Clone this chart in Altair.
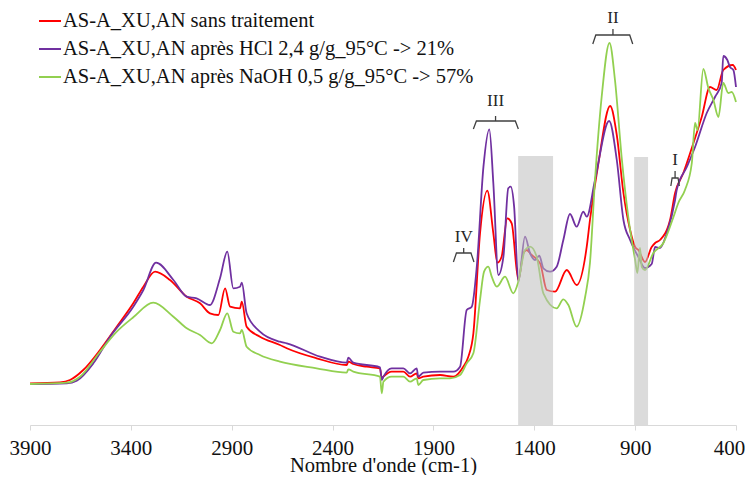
import altair as alt
import pandas as pd

names = ["AS-A_XU,AN sans traitement",
         "AS-A_XU,AN après HCl 2,4 g/g_95°C -> 21%",
         "AS-A_XU,AN après NaOH 0,5 g/g_95°C -> 57%"]
colors = ["#ff0000", "#7030a0", "#92d050"]

red_wn = [3900, 3751, 3702, 3636, 3553, 3470, 3388, 3338, 3280, 3206, 3123, 3057, 3008, 2966, 2933,
          2908, 2859, 2850, 2826, 2760, 2661, 2627, 2479, 2330, 2322, 2297, 2231, 2165, 2156, 2148,
          2107, 2049, 2016, 1983, 1975, 1950, 1867, 1801, 1752, 1727, 1702, 1669, 1633, 1603, 1583,
          1562, 1534, 1512, 1479, 1454, 1438, 1413, 1371, 1338, 1297, 1239, 1190, 1140, 1124, 1082,
          1024, 991, 958, 925, 900, 884, 851, 818, 801, 777, 727, 702, 661, 611, 570,
          529, 496, 463, 416, 400]
red_ab = [41.7, 42.7, 45, 55, 75, 98.3, 121.7, 138.3, 153.3, 145, 128.3, 121.7, 111.7, 110, 136.7,
          118.3, 116.7, 123.3, 98.3, 88.3, 80, 76.7, 66.7, 60, 63.3, 61, 58.3, 56.7, 46.7, 48.3,
          53.3, 53.3, 48.3, 51.7, 46.7, 48.3, 50, 48.3, 58.3, 68.3, 91.7, 191.7, 234.3, 191.7, 162.3,
          168.3, 206.7, 201.7, 145, 171.7, 175, 170, 161.7, 135, 133.3, 155, 140, 178.3, 205, 262,
          319, 290, 232, 195, 178, 175, 163, 178, 182, 185, 205, 232, 252, 282, 308,
          338, 335, 355, 360, 355]

purple_wn = [3900, 3718, 3668, 3586, 3503, 3388, 3338, 3275, 3189, 3123, 3074, 3008, 2958, 2922, 2892,
             2859, 2850, 2826, 2760, 2661, 2627, 2462, 2330, 2322, 2297, 2165, 2156, 2148, 2107, 2049,
             2016, 1983, 1975, 1950, 1867, 1801, 1768, 1735, 1710, 1685, 1652, 1623, 1603, 1578, 1553,
             1529, 1517, 1500, 1479, 1446, 1421, 1396, 1375, 1355, 1322, 1289, 1256, 1223, 1190, 1157,
             1140, 1099, 1029, 991, 958, 925, 884, 851, 818, 801, 777, 743, 702, 694, 644,
             603, 545, 504, 471, 463, 443, 430, 413, 400]
purple_ab = [41, 41.7, 44.3, 61.7, 88.3, 118.3, 135, 162.3, 145, 128.3, 126.7, 120, 146.7, 173.3, 136.7,
             138.3, 142.3, 111.7, 93.3, 83.3, 81.7, 68.3, 62.3, 67.3, 62.3, 57.7, 45, 48.3, 56.7, 56.7,
             51.7, 56.7, 48.3, 52.3, 53.3, 53.3, 58.3, 115, 118.3, 158.3, 258.3, 295.7, 241.7, 150, 168.3,
             236.7, 238.3, 218.3, 143.3, 188.3, 171.7, 165, 169.3, 156.7, 153.3, 158.3, 185, 211, 198.3, 213.3,
             208.3, 245, 304, 265, 205, 185, 168, 157, 161, 178, 177, 192, 225, 235, 258,
             278, 312, 328, 342, 369, 365, 358, 355, 338]

green_wn = [3900, 3718, 3652, 3553, 3470, 3388, 3289, 3189, 3123, 3057, 2999, 2958, 2922, 2892, 2859,
            2850, 2826, 2760, 2661, 2479, 2330, 2322, 2297, 2165, 2156, 2148, 2107, 2049, 2016, 1983,
            1975, 1950, 1867, 1818, 1768, 1735, 1702, 1669, 1649, 1628, 1611, 1586, 1545, 1504, 1479,
            1446, 1421, 1388, 1355, 1289, 1256, 1231, 1190, 1148, 1124, 1099, 1066, 1027, 1000, 967,
            934, 900, 889, 876, 867, 851, 810, 760, 710, 686, 653, 619, 603, 591, 562,
            537, 512, 487, 463, 438, 421, 400]
green_ab = [41, 42.3, 48.3, 73.3, 93.3, 107.7, 122.3, 108.3, 96.7, 90, 81.7, 95, 111.7, 93.3, 91.7,
            95, 78.3, 70, 63.3, 56.7, 52.3, 55.7, 53.3, 48.3, 31.7, 43.3, 48.3, 48.3, 43.3, 46.7,
            40, 45, 46.7, 46.7, 50, 61.7, 71.7, 125, 153.3, 158.3, 148.3, 138.3, 148.3, 131.7, 143.3,
            175, 178.3, 168.3, 131.7, 116.7, 125.7, 120, 98.3, 128, 162, 245, 328, 382, 345, 268,
            208, 165, 152, 177, 158, 155, 172, 182, 208, 222, 235, 262, 302, 295, 356,
            337, 325, 308, 342, 332, 333, 323]

tick_values = [3900, 3400, 2900, 2400, 1900, 1400, 900, 400]

# shaded zones (wavenumber range, height)
zone_start = [1480, 905]
zone_end = [1307, 836]
zone_top = [269, 268]

# bracket annotations
br_labels = ["IV", "III", "II", "I"]
br_left = [1801, 1702, 1110, 723]
br_right = [1699, 1479, 912, 681]
br_mid = [1750, 1592, 1010, 702]
br_top = [172, 304, 390, 247]
br_drop = [9, 8, 9, 8]
br_nub = [5, 5, 6, 7]
br_label_val = [188, 324, 407, 265]

FONT = "'Liberation Serif', 'Times New Roman', Times, 'DejaVu Serif', serif"

rows = []
for name, wns, abs_ in zip(names, [red_wn, purple_wn, green_wn], [red_ab, purple_ab, green_ab]):
    for w, a in zip(wns, abs_):
        rows.append({"serie": name, "wn": w, "ab": a})
df = pd.DataFrame(rows)

zones = pd.DataFrame({"x1": zone_start, "x2": zone_end, "top": zone_top, "base": [0, 0]})

brows = []
for lab, l, r, m, t, d, n in zip(br_labels, br_left, br_right, br_mid, br_top, br_drop, br_nub):
    c = min(15, 0.15 * (l - r))
    pts = [(l, t - d), (l - c, t), (m, t), (m, t + n), (m, t), (r + c, t), (r, t - d)]
    for i, (px, py) in enumerate(pts):
        brows.append({"b": lab, "i": i, "wn": px, "ab": py})
bdf = pd.DataFrame(brows)
ldf = pd.DataFrame({"lab": br_labels, "wn": br_mid, "ab": br_label_val})

x_scale = alt.Scale(domain=[3900, 400], nice=False, zero=False)
y_scale = alt.Scale(domain=[0, 417], nice=False, zero=False)

x_axis = alt.Axis(values=tick_values, format="d", title="Nombre d'onde (cm-1)", grid=False,
                  domainColor="#d9d9d9", tickColor="#d9d9d9", tickSize=5,
                  labelFont=FONT, labelFontSize=21, labelColor="#111111", labelPadding=7,
                  labelFlush=False, labelOverlap=False,
                  labelOffset={"condition": {"test": "datum.value == 400", "value": -7}, "value": 0},
                  titleFont=FONT, titleFontSize=20.5, titleFontWeight="normal", titleColor="#111111",
                  titlePadding=-3)

lines = alt.Chart(df).mark_line(strokeWidth=1.8, interpolate="monotone").encode(
    x=alt.X("wn:Q", scale=x_scale, axis=x_axis),
    y=alt.Y("ab:Q", scale=y_scale, axis=None),
    color=alt.Color("serie:N", scale=alt.Scale(domain=names, range=colors),
                    legend=alt.Legend(title=None, orient="none", legendX=8, legendY=1,
                                      symbolType="stroke", symbolSize=484, symbolStrokeWidth=2,
                                      labelFont=FONT, labelFontSize=20.5, labelColor="#111111",
                                      labelOffset=1, rowPadding=5, padding=0, labelLimit=0)),
)

rects = alt.Chart(zones).mark_rect(color="#bdbdbd", opacity=0.55).encode(
    x=alt.X("x1:Q", scale=x_scale), x2="x2:Q",
    y=alt.Y("base:Q", scale=y_scale), y2="top:Q",
)

brackets = alt.Chart(bdf).mark_line(color="#404040", strokeWidth=1.3).encode(
    x=alt.X("wn:Q", scale=x_scale), y=alt.Y("ab:Q", scale=y_scale),
    detail="b:N", order="i:Q",
)

texts = alt.Chart(ldf).mark_text(font=FONT, fontSize=17, color="#262626", baseline="middle").encode(
    x=alt.X("wn:Q", scale=x_scale), y=alt.Y("ab:Q", scale=y_scale), text="lab:N",
)

chart = alt.layer(lines, rects, brackets, texts).properties(
    width=706, height=417,
    autosize=alt.AutoSizeParams(type="none"),
    padding={"left": 22, "top": 0, "right": 9, "bottom": 50},
).configure_view(stroke=None)

chart.save("out.html", embed_options={"renderer": "svg", "actions": False})
